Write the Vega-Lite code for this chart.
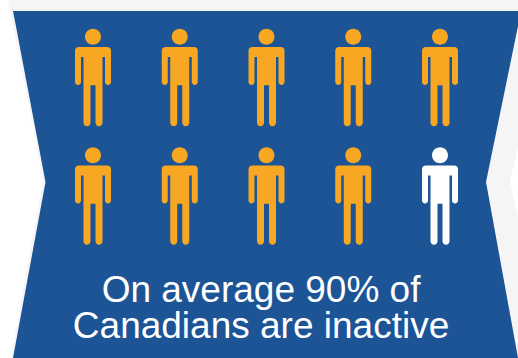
{
  "$schema": "https://vega.github.io/schema/vega-lite/v6.json",
  "width": 518,
  "height": 358,
  "padding": 0,
  "autosize": {"type": "none"},
  "background": "#ffffff",
  "view": {"stroke": null},
  "resolve": {"scale": {"x": "independent", "y": "independent", "color": "independent"}},
  "layer": [
    {
      "data": {"values": [
        {"level": 0, "left": 8, "right": 518},
        {"level": 147, "left": 37, "right": 518},
        {"level": 182, "left": 43, "right": 510},
        {"level": 218, "left": 36, "right": 518},
        {"level": 358, "left": 11, "right": 518}
      ]},
      "mark": {"type": "area", "orient": "horizontal", "color": "#f5f5f5"},
      "encoding": {
        "y": {"field": "level", "type": "quantitative", "scale": {"domain": [358, 0]}, "axis": null},
        "x": {"field": "left", "type": "quantitative", "scale": {"domain": [0, 518]}, "axis": null},
        "x2": {"field": "right"}
      }
    },
    {
      "data": {"values": [
        {"level": 11, "left": 13, "right": 518},
        {"level": 26, "left": 15.9, "right": 518},
        {"level": 182, "left": 45.5, "right": 486},
        {"level": 358, "left": 13, "right": 518}
      ]},
      "mark": {"type": "area", "orient": "horizontal", "color": "#1c5496"},
      "encoding": {
        "y": {"field": "level", "type": "quantitative", "scale": {"domain": [358, 0]}, "axis": null},
        "x": {"field": "left", "type": "quantitative", "scale": {"domain": [0, 518]}, "axis": null},
        "x2": {"field": "right"}
      }
    },
    {
      "data": {"values": [
        {"col": 1, "row": 1, "status": "inactive"},
        {"col": 2, "row": 1, "status": "inactive"},
        {"col": 3, "row": 1, "status": "inactive"},
        {"col": 4, "row": 1, "status": "inactive"},
        {"col": 5, "row": 1, "status": "inactive"},
        {"col": 1, "row": 2, "status": "inactive"},
        {"col": 2, "row": 2, "status": "inactive"},
        {"col": 3, "row": 2, "status": "inactive"},
        {"col": 4, "row": 2, "status": "inactive"},
        {"col": 5, "row": 2, "status": "active"}
      ]},
      "mark": {
        "type": "point",
        "filled": true,
        "opacity": 1,
        "size": 4,
        "shape": "M-14,-30 L14,-30 Q18,-30 18,-26 L18,5 A3,3 0 0 1 12,5 L12,-20 L9.5,-20 L9.5,45.8 A3.5,3.5 0 0 1 2.5,45.8 L2.5,8.3 L-2.5,8.3 L-2.5,45.8 A3.5,3.5 0 0 1 -9.5,45.8 L-9.5,-20 L-12,-20 L-12,5 A3,3 0 0 1 -18,5 L-18,-26 Q-18,-30 -14,-30 Z M-8,-40.3 A8,8 0 1 1 8,-40.3 A8,8 0 1 1 -8,-40.3 Z"
      },
      "encoding": {
        "x": {"field": "col", "type": "quantitative", "scale": {"domain": [-0.072, 5.899]}, "axis": null},
        "y": {"field": "row", "type": "quantitative", "scale": {"domain": [3.371, 0.35]}, "axis": null},
        "color": {
          "field": "status",
          "type": "nominal",
          "scale": {"domain": ["inactive", "active"], "range": ["#f8a723", "#ffffff"]},
          "legend": null
        }
      }
    },
    {
      "data": {"values": [
        {"col": 2.937, "row": 2.898, "line": "On average 90% of"},
        {"col": 2.937, "row": 3.202, "line": "Canadians are inactive"}
      ]},
      "mark": {
        "type": "text",
        "font": "Liberation Sans",
        "fontSize": 37,
        "color": "#ffffff",
        "align": "center",
        "baseline": "alphabetic"
      },
      "encoding": {
        "x": {"field": "col", "type": "quantitative", "scale": {"domain": [-0.072, 5.899]}, "axis": null},
        "y": {"field": "row", "type": "quantitative", "scale": {"domain": [3.371, 0.35]}, "axis": null},
        "text": {"field": "line", "type": "nominal"}
      }
    }
  ]
}
